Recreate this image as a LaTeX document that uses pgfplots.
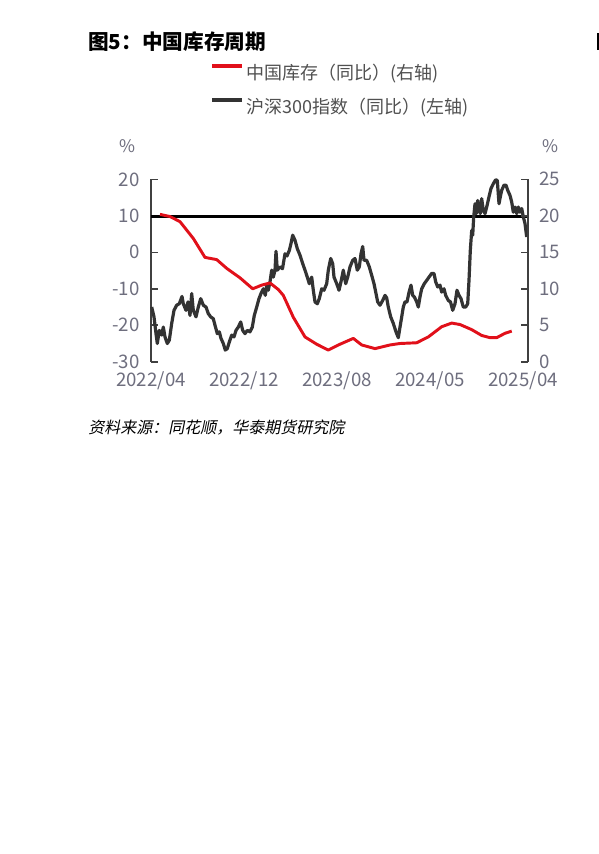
\documentclass[border=0pt]{standalone}
\usepackage{fontspec}
\setmainfont{Noto Sans CJK SC}[ItalicFont={Noto Sans CJK SC}, ItalicFeatures={FakeSlant=0.2}]
\usepackage{pgfplots}
\pgfplotsset{compat=1.18}
\definecolor{tickgray}{HTML}{6E6E7E}
\definecolor{axgray}{HTML}{404040}
\definecolor{serred}{HTML}{E1101A}
\definecolor{serblack}{HTML}{333333}
\definecolor{legtext}{HTML}{505050}

\pgfplotstableread{
x y
151.7 -15.0
154 -17.7
156 -22.3
157.3 -25.0
159.3 -21.4
161.7 -22.7
163.3 -20.5
165 -23.2
167.3 -25.0
169.3 -24.1
171.7 -19.5
174 -15.9
176.7 -14.5
179.3 -14.1
182 -12.1
183.3 -14.1
186 -15.9
188 -13.6
190 -17.3
191.7 -11.3
193.3 -15.9
196 -17.7
198.3 -15.0
200.7 -12.7
203.3 -14.5
206 -15.0
208.3 -16.8
210.7 -17.7
213.3 -18.2
215 -20.0
217.3 -22.3
219.3 -21.8
221 -23.6
223.3 -25.0
225.3 -26.8
227.3 -26.4
229.3 -24.6
231.7 -22.7
234 -23.2
236 -21.4
238.3 -20.5
240.7 -19.1
242.7 -21.4
245 -22.3
247.3 -21.4
250 -21.8
252.3 -20.5
254.3 -17.3
256.7 -15.0
259 -12.7
261 -11.3
263.3 -10.0
265.3 -11.8
266.7 -9.0
268.3 -10.4
270 -8.1
271.7 -4.9
273.3 -6.8
275 -4.9
276 0.3
277.3 -4.9
280 -4.0
282.5 -4.5
285 -0.4
287 -1.0
289.3 0.5
291 2.4
292.7 4.7
295 3.3
297.3 1.0
300 -0.8
302.7 -3.1
305 -4.9
307.3 -6.8
309.3 -8.6
311.7 -6.8
313.3 -10.4
315 -13.6
317.3 -14.1
319.3 -12.7
321.7 -10.0
324 -10.4
326.7 -8.6
328.3 -4.9
330.7 -1.7
332.7 -3.1
334 -6.8
336.7 -8.6
339 -10.4
341.3 -7.7
343.3 -4.9
345.7 -8.6
347.7 -6.8
350 -4.0
352.7 -2.2
355 -1.7
357.3 -4.9
359.3 -4.0
361 -0.4
362.7 1.6
364 -2.2
366.7 -2.2
369.3 -4.0
371.7 -6.3
374 -8.6
376 -11.3
377.7 -13.6
380 -14.5
382.7 -13.2
385 -11.8
386.7 -12.5
388.3 -15.0
390.7 -17.7
393.3 -19.5
396 -21.8
398.3 -23.4
400 -20.5
401.7 -17.7
403.3 -15.0
405 -13.6
407 -13.6
409 -11.0
411 -9.0
412.7 -11.8
414.3 -12.2
416.7 -13.6
418.3 -15.0
420 -12.2
421.7 -10.0
424.3 -8.6
426.7 -7.7
429 -6.8
431.7 -5.8
434 -5.8
435.7 -8.1
437.7 -9.5
440 -9.0
441.7 -10.9
444 -10.0
445.7 -11.8
448.3 -13.2
450.5 -13.6
452.7 -15.9
455 -14.1
457 -10.4
459 -11.8
461 -12.7
463.3 -15.0
465.7 -15.0
467.7 -14.1
469 -7.7
470.3 0.5
471.7 6.0
472.7 4.7
473.7 9.7
475 13.3
476.3 10.6
477.7 14.2
479 12.0
480.3 10.6
481.7 14.7
483.3 11.5
485 10.6
486.7 12.4
489 15.2
491 17.5
493.3 18.8
495.7 19.9
497.3 19.7
499 13.3
500.3 15.2
501.7 17.0
504 18.4
506 18.4
507.7 17.0
510 15.6
511.7 13.8
513.3 11.0
515 12.4
516.7 10.6
518.3 12.4
520 11.0
521.7 12.0
523.3 9.7
525 7.9
526.7 4.2
}\hstable

\pgfplotstableread{
x y
160 20.2
170 19.9
180 19.2
193.3 16.9
205 14.3
216.7 14.0
226.7 12.8
240 11.5
252.7 10.0
261.7 10.5
270 10.8
278.3 9.9
283.3 9.1
293.3 6.1
305 3.4
316.7 2.4
328.3 1.6
340 2.4
353.3 3.2
361.7 2.3
375 1.8
390 2.3
400 2.5
416.7 2.6
428.3 3.4
441.7 4.8
451.7 5.3
460 5.1
471.7 4.4
481.7 3.6
490 3.3
496.7 3.3
505 3.9
511.7 4.2
}\invtable

\begin{document}
\begin{tikzpicture}
\useasboundingbox (0,0) rectangle (449.25pt,-640.5pt);
\fill[white] (0,0) rectangle (449.25pt,-640.5pt);
\fill[black] (448pt,-24.75pt) rectangle (449.25pt,-37.5pt);
\node[anchor=west, inner sep=0pt, font=\bfseries\fontsize{15.5}{18}\selectfont] at (66pt,-31.3pt) {图5：中国库存周期};
\node[inner sep=0pt, text=tickgray, font=\fontsize{13}{15}\selectfont] at (95.5pt,-109.5pt) {\%};
\node[inner sep=0pt, text=tickgray, font=\fontsize{13}{15}\selectfont] at (413pt,-109.5pt) {\%};
\node[anchor=west, inner sep=0pt, font=\itshape\fontsize{12}{14}\selectfont] at (66pt,-321pt) {资料来源：同花顺，华泰期货研究院};

\pgfplotsset{
  common/.style={
    at={(113.25pt,-271.3pt)}, anchor=south west,
    scale only axis, width=282.75pt, height=136.8pt,
    xmin=151, xmax=528,
    clip=false,
    tick align=inside,
    major tick length=5pt,
    /pgf/number format/assume math mode=true,
    tick label style={text=tickgray, font=\fontsize{14}{16}\selectfont},
    axis line style={axgray, line width=1.2pt, -},
    ytick style={axgray, line width=1.2pt},
  }
}

\begin{axis}[common,
  ymin=-30, ymax=20, ytick={-30,-20,...,20},
  axis y line*=left, axis x line*=bottom,
  x axis line style={draw=none},
  xtick style={draw=none},
  xtick={151,244,337,430,523},
  xticklabels={2022/04,2022/12,2023/08,2024/05,2025/04},
  xticklabel style={yshift=-4pt},
  yticklabel style={xshift=-5pt},
]
\addplot[black, line width=2pt] coordinates {(151,9.8) (528,9.8)};
\addplot[serblack, line width=2.4pt, line join=round] table[x=x,y=y] {\hstable};
\end{axis}

\begin{axis}[common,
  ymin=0, ymax=25, ytick={0,5,...,25},
  axis y line*=right, axis x line=none,
  yticklabel style={xshift=5pt},
  legend style={at={(axis description cs:0.1565,1.648)}, anchor=north west,
    draw=none, fill=none, font=\fontsize{13.5}{16}\selectfont, text=legtext,
    row sep=8.5pt, inner sep=0pt},
  legend cell align=left,
  legend image code/.code={\draw[#1, line width=3pt] (0pt,5pt) -- (22pt,5pt);},
]
\addplot[serred, line width=2.2pt, line join=round] table[x=x,y=y] {\invtable};
\addlegendentry{中国库存（同比）(右轴)}
\addlegendimage{serblack, line width=3pt}
\addlegendentry{沪深300指数（同比）(左轴)}
\end{axis}
\end{tikzpicture}
\end{document}
